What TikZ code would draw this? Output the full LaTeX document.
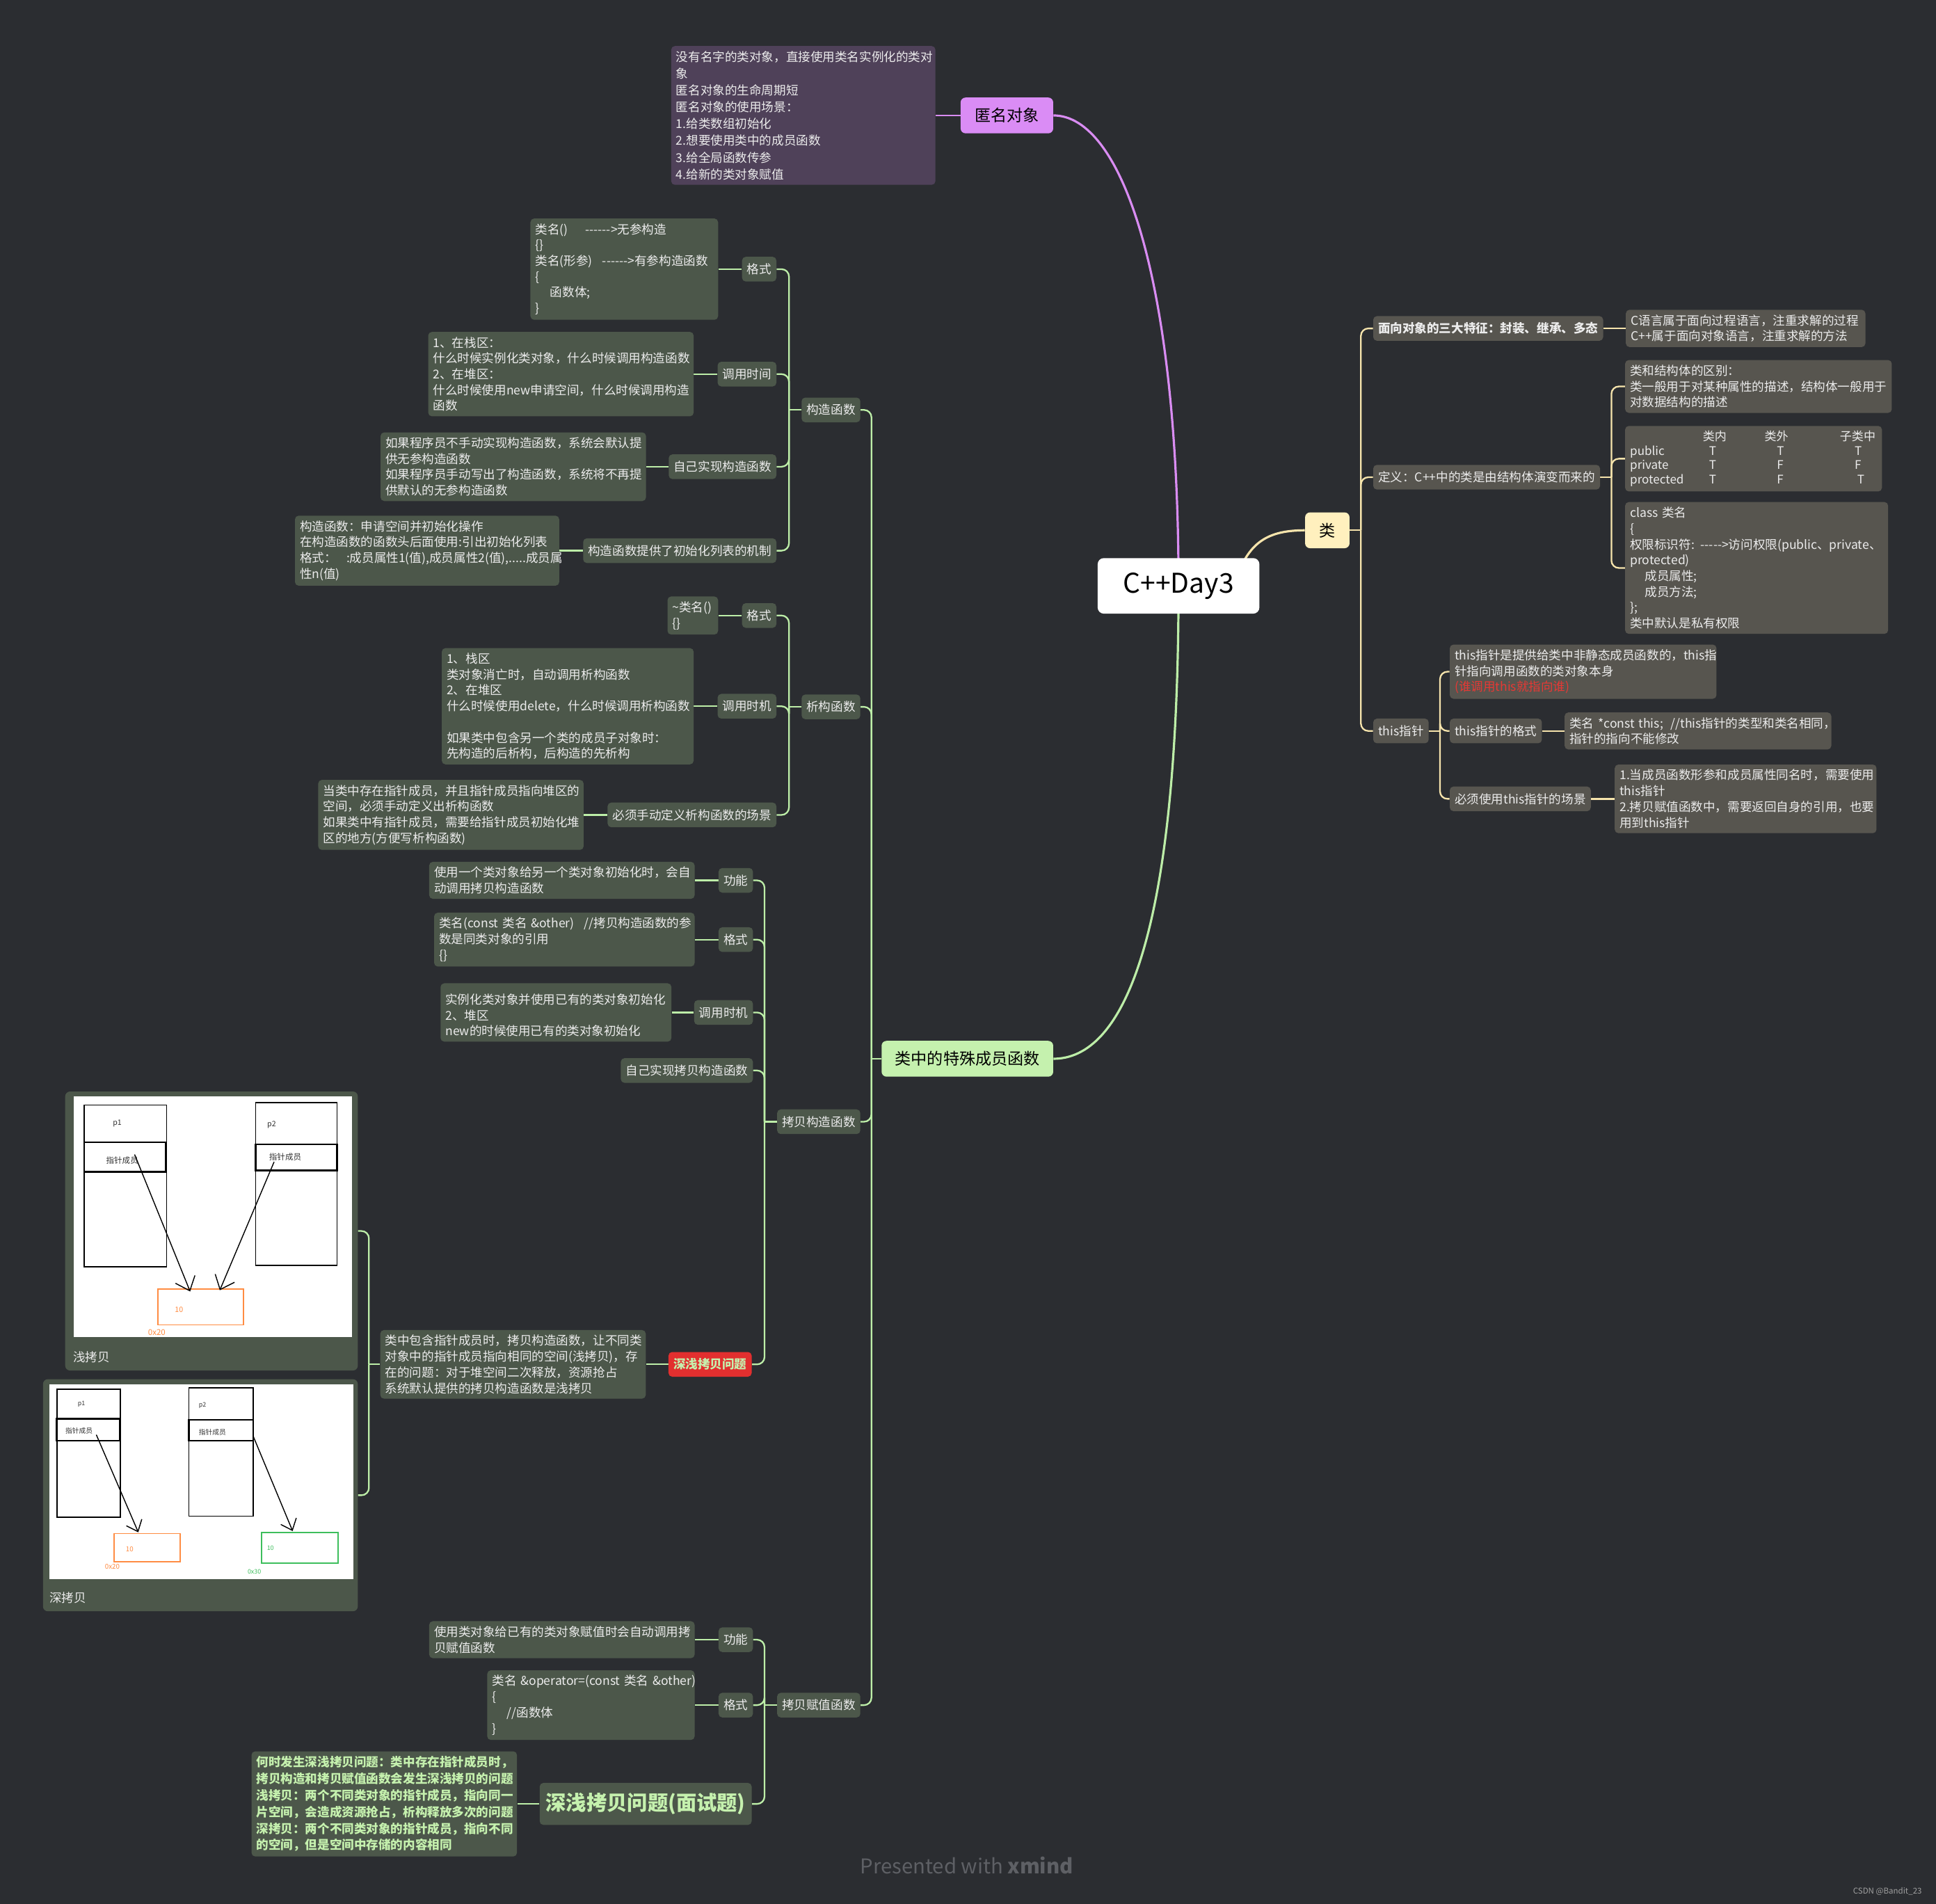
\documentclass[tikz,border=0pt]{standalone}
\usepackage{fontspec}
\setmainfont{Noto Sans CJK SC}
\usetikzlibrary{arrows.meta, positioning, calc, backgrounds}
\definecolor{bgdark}{HTML}{2B2D31}
\definecolor{txtwhite}{HTML}{ECECEC}
\definecolor{gbox}{HTML}{4C574A}
\definecolor{ybox}{HTML}{57554F}
\definecolor{pbox}{HTML}{4F4159}
\definecolor{purplenode}{HTML}{DA8CF5}
\definecolor{yellownode}{HTML}{FFF0BE}
\definecolor{greennode}{HTML}{C5F1AE}
\definecolor{glink}{HTML}{BDEEA8}
\definecolor{ylink}{HTML}{F6E4AC}
\definecolor{plink}{HTML}{D98CF2}
\definecolor{rednode}{HTML}{E22F2F}
\definecolor{redtxt}{HTML}{E53935}
\definecolor{drawor}{HTML}{FF8C42}
\definecolor{drawgr}{HTML}{3DBE5C}
\definecolor{footgray}{HTML}{5E6065}
\newcommand{\hy}{\mbox{-}}
\tikzset{
  root/.style={rectangle, rounded corners=5pt, fill=white, text=black,
               font=\fontsize{22}{26}\selectfont, minimum width=131pt, minimum height=45pt},
  topic/.style={rectangle, rounded corners=4pt, fill=#1, text=black,
                font=\fontsize{13}{16}\selectfont, minimum height=29pt, inner xsep=6pt},
  sub/.style={rectangle, rounded corners=3pt, fill=#1, text=txtwhite,
              font=\fontsize{9.9}{12}\selectfont, minimum height=20pt, inner xsep=4pt, inner ysep=2pt},
  sub/.default=gbox,
  note/.style={rectangle, rounded corners=3pt, fill=#1, text=txtwhite, align=left,
               font=\fontsize{9.9}{12.8}\selectfont, inner xsep=4pt, inner ysep=4pt},
  note/.default=gbox,
  imgbox/.style={rectangle, rounded corners=4pt, fill=gbox, inner sep=0pt},
  imgcap/.style={font=\fontsize{9.9}{12}\selectfont, text=txtwhite, inner sep=0pt},
  memcell/.style={draw=black, line width=1pt},
  ptrarrow/.style={-{Straight Barb[length=#1, width=1.7*#1]}, line width=0.8pt},
  gline/.style={draw=glink, line width=1.3pt, rounded corners=6pt},
  yline/.style={draw=ylink, line width=1.3pt, rounded corners=6pt},
  pline/.style={draw=plink, line width=1.3pt},
}
\begin{document}
\begin{tikzpicture}[x=1pt, y=-1pt]
\useasboundingbox (0,0) rectangle (1568,1542);
\begin{scope}[on background layer]
  \fill[bgdark] (0,0) rectangle (1568,1542);
\end{scope}

% main topics
\node[root] (root) at (954.5,474.5) {C++Day3};
\node[topic=purplenode, minimum width=75pt] (anon) at (815.5,93.5) {匿名对象};
\node[topic=yellownode, minimum width=36pt, inner xsep=4pt] (cls) at (1075,429.5) {类};
\node[topic=greennode, minimum width=139pt] (special) at (783.5,857.5) {类中的特殊成员函数};

\node[note=pbox, text width=206pt, left=20pt of anon, font=\fontsize{9.9}{13.6}\selectfont] (anonD)
  {没有名字的类对象，直接使用类名实例化的类对\\象\\匿名对象的生命周期短\\匿名对象的使用场景：\\1.给类数组初始化\\2.想要使用类中的成员函数\\3.给全局函数传参\\4.给新的类对象赋值};

% class branch
\node[sub=ybox, anchor=west, font=\bfseries\fontsize{9.9}{12}\selectfont] (feat) at (1112,266) {面向对象的三大特征：封装、继承、多态};
\node[note=ybox, text width=186pt, right=18pt of feat] (featD) {C语言属于面向过程语言，注重求解的过程\\C++属于面向对象语言，注重求解的方法};
\node[sub=ybox, anchor=west] (def) at (1112,386.5) {定义：C++中的类是由结构体演变而来的};
\node[note=ybox, text width=208pt, anchor=west] (structD) at (1316,313) {类和结构体的区别：\\类一般用于对某种属性的描述，结构体一般用于\\对数据结构的描述};
\node[note=ybox, text width=200pt, anchor=west, font=\fontsize{9.6}{11.6}\selectfont] (tableD) at (1316,371.5)
  {\hspace*{59pt}\makebox[50pt][l]{类内}\makebox[61pt][l]{类外}子类中\\
   \makebox[64pt][l]{public}\makebox[55pt][l]{T}\makebox[63pt][l]{T}T\\
   \makebox[64pt][l]{private}\makebox[55pt][l]{T}\makebox[63pt][l]{F}F\\
   \makebox[64pt][l]{protected}\makebox[55pt][l]{T}\makebox[63pt][l]{F}\hspace*{2pt}T};
\node[note=ybox, text width=205pt, anchor=west] (classD) at (1316,460)
  {class 类名\\\{\\\mbox{权限标识符: \hy\hy\hy\hy\hy>访问权限(public、private、}\\protected)\\\hspace*{12pt}成员属性;\\\hspace*{12pt}成员方法;\\\};\\类中默认是私有权限};
\node[sub=ybox, anchor=west] (thisP) at (1112,592) {this指针};
\node[note=ybox, text width=208pt, anchor=west] (thisD) at (1174,544)
  {this指针是提供给类中非静态成员函数的，this指\\针指向调用函数的类对象本身\\\textcolor{redtxt}{(谁调用this就指向谁)}};
\node[sub=ybox, anchor=west] (thisFmt) at (1174,592) {this指针的格式};
\node[note=ybox, text width=208pt, right=18pt of thisFmt] (thisFmtD)
  {\mbox{类名 *const this;\hspace{6pt}//this指针的类型和类名相同，}\\指针的指向不能修改};
\node[sub=ybox, anchor=west] (thisUse) at (1174,647) {必须使用this指针的场景};
\node[note=ybox, text width=204pt, right=19pt of thisUse] (thisUseD)
  {1.当成员函数形参和成员属性同名时，需要使用\\this指针\\2.拷贝赋值函数中，需要返回自身的引用，也要\\用到this指针};

% special member functions
\node[sub, anchor=east] (ctor) at (697,332) {构造函数};
\node[sub, anchor=east] (dtor) at (697,572.5) {析构函数};
\node[sub, anchor=east] (cpctor) at (697,908.5) {拷贝构造函数};
\node[sub, anchor=east] (assign) at (697,1381) {拷贝赋值函数};

\node[sub, anchor=east] (ctorFmt) at (629,218) {格式};
\node[note, text width=144pt, left=19pt of ctorFmt] (ctorFmtD)
  {\mbox{类名()\hspace{14pt}\hy\hy\hy\hy\hy\hy>无参构造}\\\{\}\\\mbox{类名(形参)\hspace{8pt}\hy\hy\hy\hy\hy\hy>有参构造函数}\\\{\\\hspace*{12pt}函数体;\\\}};
\node[sub, anchor=east] (ctorTime) at (629,303) {调用时间};
\node[note, text width=207pt, left=19pt of ctorTime] (ctorTimeD)
  {1、在栈区：\\什么时候实例化类对象，什么时候调用构造函数\\2、在堆区：\\什么时候使用new申请空间，什么时候调用构造\\函数};
\node[sub, anchor=east] (ctorSelf) at (629,378) {自己实现构造函数};
\node[note, text width=207pt, left=18pt of ctorSelf] (ctorSelfD)
  {如果程序员不手动实现构造函数，系统会默认提\\供无参构造函数\\如果程序员手动写出了构造函数，系统将不再提\\供默认的无参构造函数};
\node[sub, anchor=east] (ctorInit) at (629,446) {构造函数提供了初始化列表的机制};
\node[note, text width=206pt, left=19pt of ctorInit] (ctorInitD)
  {构造函数：申请空间并初始化操作\\在构造函数的函数头后面使用:引出初始化列表\\\mbox{格式：\hspace{8pt}:成员属性1(值),成员属性2(值),.....成员属}\\性n(值)};

\node[sub, anchor=east] (dtorFmt) at (629,498.5) {格式};
\node[note, text width=33pt, left=19pt of dtorFmt] (dtorFmtD) {\textasciitilde 类名()\\\{\}};
\node[sub, anchor=east] (dtorTime) at (629,572) {调用时机};
\node[note, text width=196pt, left=19pt of dtorTime] (dtorTimeD)
  {1、栈区\\类对象消亡时，自动调用析构函数\\2、在堆区\\什么时候使用delete，什么时候调用析构函数\\\mbox{}\\如果类中包含另一个类的成员子对象时：\\先构造的后析构，后构造的先析构};
\node[sub, anchor=east] (dtorMust) at (629,660) {必须手动定义析构函数的场景};
\node[note, text width=207pt, left=19pt of dtorMust] (dtorMustD)
  {当类中存在指针成员，并且指针成员指向堆区的\\空间，必须手动定义出析构函数\\如果类中有指针成员，需要给指针成员初始化堆\\区的地方(方便写析构函数)};

\node[sub, anchor=east] (cpFunc) at (610,713) {功能};
\node[note, text width=207pt, left=19pt of cpFunc] (cpFuncD)
  {使用一个类对象给另一个类对象初始化时，会自\\动调用拷贝构造函数};
\node[sub, anchor=east] (cpFmt) at (610,761) {格式};
\node[note, text width=203pt, left=19pt of cpFmt] (cpFmtD)
  {\mbox{类名(const 类名 \&other)\hspace{8pt}//拷贝构造函数的参}\\数是同类对象的引用\\\{\}};
\node[sub, anchor=east] (cpTime) at (610,820) {调用时机};
\node[note, text width=179pt, left=18pt of cpTime] (cpTimeD)
  {\mbox{}\\实例化类对象并使用已有的类对象初始化\\2、堆区\\new的时候使用已有的类对象初始化};
\node[sub, anchor=east] (cpSelf) at (610,867) {自己实现拷贝构造函数};
\node[sub=rednode, anchor=east, text=greennode, font=\bfseries\fontsize{9.9}{12}\selectfont] (deep) at (609,1105) {深浅拷贝问题};
\node[note, text width=207pt, left=18pt of deep] (deepD)
  {类中包含指针成员时，拷贝构造函数，让不同类\\对象中的指针成员指向相同的空间(浅拷贝)，存\\在的问题：对于堆空间二次释放，资源抢占\\系统默认提供的拷贝构造函数是浅拷贝};

\node[sub, anchor=east] (asFunc) at (610,1328) {功能};
\node[note, text width=207pt, left=19pt of asFunc] (asFuncD)
  {使用类对象给已有的类对象赋值时会自动调用拷\\贝赋值函数};
\node[sub, anchor=east] (asFmt) at (610,1381) {格式};
\node[note, text width=160pt, left=19pt of asFmt] (asFmtD)
  {\mbox{类名 \&operator=(const 类名 \&other)}\\\{\\\hspace*{12pt}//函数体\\\}};
\node[sub, anchor=east, minimum height=34pt, inner xsep=5pt, text=greennode,
      font=\bfseries\fontsize{16.5}{20}\selectfont] (interview) at (609,1461) {深浅拷贝问题(面试题)};
\node[note, text width=207pt, left=18pt of interview, text=greennode,
      font=\bfseries\fontsize{9.9}{13.4}\selectfont] (interviewD)
  {何时发生深浅拷贝问题：类中存在指针成员时，\\拷贝构造和拷贝赋值函数会发生深浅拷贝的问题\\浅拷贝：两个不同类对象的指针成员，指向同一\\片空间，会造成资源抢占，析构释放多次的问题\\深拷贝：两个不同类对象的指针成员，指向不同\\的空间，但是空间中存储的内容相同};

% pictures of shallow and deep copy
\node[imgbox, minimum width=237pt, minimum height=226pt, anchor=east] (shallowImg) at (290,997) {};
\fill[white] (60,888) rectangle (285,1083);
\draw[memcell] (68,895) rectangle (135,1026);
\draw[memcell, line width=1.3pt] (68,925) rectangle (134,949);
\draw[memcell] (207,893) rectangle (273,1025);
\draw[memcell, line width=1.3pt] (207,927) rectangle (273,948);
\draw[drawor, line width=1pt] (128,1044) rectangle (197,1073);
\node[font=\fontsize{6}{7}\selectfont, text=black!80] (sp1) at (95,910) {p1};
\node[font=\fontsize{6.5}{7}\selectfont, text=black!80] (sm1) at (99,940) {指针成员};
\node[font=\fontsize{6}{7}\selectfont, text=black!80] (sp2) at (220,911) {p2};
\node[font=\fontsize{6.5}{7}\selectfont, text=black!80] (sm2) at (231,937) {指针成员};
\node[font=\fontsize{6}{7}\selectfont, text=drawor] (sval) at (145,1061) {10};
\node[font=\fontsize{6.5}{7}\selectfont, text=drawor] (sadr) at (127,1079) {0x20};
\draw[ptrarrow=10pt] (109,935) -- (154,1046);
\draw[ptrarrow=10pt] (222,941) -- (178,1045);
\node[imgcap, anchor=west] (shallowCap) at (59,1099) {浅拷贝};

\node[imgbox, minimum width=255pt, minimum height=188pt, anchor=east] (deepImg) at (290,1211) {};
\fill[white] (40,1121) rectangle (286,1279);
\draw[memcell] (46,1125) rectangle (97.5,1229);
\draw[memcell, line width=1.3pt] (46,1149) rectangle (97,1167);
\draw[memcell] (153,1124) rectangle (205,1228);
\draw[memcell, line width=1.3pt] (153,1150) rectangle (205,1167);
\draw[drawor, line width=1pt] (92.5,1242) rectangle (146,1265);
\draw[drawgr, line width=1pt] (212,1241) rectangle (274,1266);
\node[font=\fontsize{5}{6}\selectfont, text=black!80] (dp1) at (66,1137) {p1};
\node[font=\fontsize{5.5}{6}\selectfont, text=black!80] (dm1) at (64,1159) {指针成员};
\node[font=\fontsize{5}{6}\selectfont, text=black!80] (dp2) at (164,1138) {p2};
\node[font=\fontsize{5.5}{6}\selectfont, text=black!80] (dm2) at (172,1160) {指针成员};
\node[font=\fontsize{5.5}{6}\selectfont, text=drawor] (dval1) at (105,1255) {10};
\node[font=\fontsize{5.5}{6}\selectfont, text=drawor] (dadr1) at (91,1269) {0x20};
\node[font=\fontsize{5}{6}\selectfont, text=drawgr] (dval2) at (219,1254) {10};
\node[font=\fontsize{5}{6}\selectfont, text=drawgr] (dadr2) at (206,1273) {0x30};
\draw[ptrarrow=8pt] (78,1162) -- (112,1241);
\draw[ptrarrow=8pt] (205,1163) -- (237,1240);
\node[imgcap, anchor=west] (deepCap) at (40,1294) {深拷贝};

% footer
\node[font=\fontsize{16.5}{19}\selectfont, text=footgray] (credit) at (783,1511) {Presented with \textbf{xmind}};
\node[font=\fontsize{6.5}{8}\selectfont, text=gray!75, anchor=east] (watermark) at (1560,1532) {CSDN @Bandit\_23};

% connectors
\begin{scope}[on background layer]
  \draw[pline, line width=1.8pt] (root.center) .. controls +(0,-250) and +(55,0) .. (anon.east);
  \draw[yline, line width=1.8pt] ($(root.center)+(45,0)$) .. controls +(10,-34) and +(-32,0) .. (cls.west);
  \draw[gline, line width=1.8pt] (root.center) .. controls +(0,290) and +(55,0) .. (special.east);
  \draw[pline] (anonD.east) -- (anon.west);

  \coordinate (clsJ) at ($(cls.east)+(9,0)$);
  \draw[yline] (cls.east) -- (clsJ);
  \foreach \c in {feat,def,thisP} \draw[yline] (clsJ) |- (\c.west);
  \draw[yline] (feat.east) -- (featD.west);
  \coordinate (defJ) at ($(def.east)+(9,0)$);
  \draw[yline] (def.east) -- (defJ);
  \foreach \c in {structD,tableD,classD} \draw[yline] (defJ) |- (\c.west);
  \coordinate (thisJ) at ($(thisP.east)+(9,0)$);
  \draw[yline] (thisP.east) -- (thisJ);
  \foreach \c in {thisD,thisFmt,thisUse} \draw[yline] (thisJ) |- (\c.west);
  \draw[yline] (thisFmt.east) -- (thisFmtD.west);
  \draw[yline] (thisUse.east) -- (thisUseD.west);

  \coordinate (specialJ) at ($(special.west)+(-8,0)$);
  \draw[gline] (special.west) -- (specialJ);
  \foreach \c in {ctor,dtor,cpctor,assign} \draw[gline] (specialJ) |- (\c.east);
  \coordinate (ctorJ) at ($(ctor.west)+(-10,0)$);
  \draw[gline] (ctor.west) -- (ctorJ);
  \foreach \c in {ctorFmt,ctorTime,ctorSelf,ctorInit} \draw[gline] (ctorJ) |- (\c.east);
  \coordinate (dtorJ) at ($(dtor.west)+(-10,0)$);
  \draw[gline] (dtor.west) -- (dtorJ);
  \foreach \c in {dtorFmt,dtorTime,dtorMust} \draw[gline] (dtorJ) |- (\c.east);
  \coordinate (cpctorJ) at ($(cpctor.west)+(-10,0)$);
  \draw[gline] (cpctor.west) -- (cpctorJ);
  \foreach \c in {cpFunc,cpFmt,cpTime,cpSelf,deep} \draw[gline] (cpctorJ) |- (\c.east);
  \coordinate (assignJ) at ($(assign.west)+(-10,0)$);
  \draw[gline] (assign.west) -- (assignJ);
  \foreach \c in {asFunc,asFmt,interview} \draw[gline] (assignJ) |- (\c.east);
  \foreach \a/\b in {ctorFmt/ctorFmtD,ctorTime/ctorTimeD,ctorSelf/ctorSelfD,ctorInit/ctorInitD,
                     dtorFmt/dtorFmtD,dtorTime/dtorTimeD,dtorMust/dtorMustD,
                     cpFunc/cpFuncD,cpFmt/cpFmtD,cpTime/cpTimeD,deep/deepD,
                     asFunc/asFuncD,asFmt/asFmtD,interview/interviewD}
    \draw[gline] (\a.west) -- (\b.east);
  \coordinate (deepJ) at ($(deepD.west)+(-9,0)$);
  \draw[gline] (deepD.west) -- (deepJ);
  \foreach \c in {shallowImg,deepImg} \draw[gline] (deepJ) |- (\c.east);
\end{scope}
\end{tikzpicture}
\end{document}
